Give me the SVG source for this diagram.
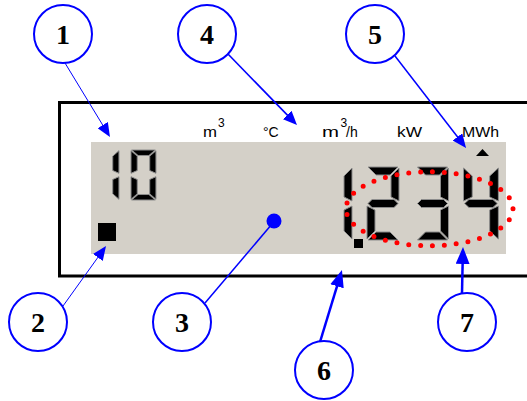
<svg xmlns="http://www.w3.org/2000/svg" xmlns:xlink="http://www.w3.org/1999/xlink" width="527" height="401" viewBox="0 0 527 401">
<style>
.seg{fill:#000;stroke:#8c8c8c;stroke-width:1;stroke-linejoin:round;vector-effect:non-scaling-stroke}
.unit{font-family:"Liberation Sans",Arial,sans-serif;font-size:14px;fill:#000}
.sup{font-family:"Liberation Sans",Arial,sans-serif;font-size:12px;fill:#000}
.callout circle{fill:#fff;stroke:#0000ff;stroke-width:2}
.callout text{font-family:"Liberation Serif","Times New Roman",serif;font-weight:bold;font-size:28px;fill:#000;text-anchor:middle}
.con{fill:none;stroke:#0000ff}
</style>
<defs>
<path id="sa" class="seg" d="M1,0 L31,0 L23,8 L9,8 Z"/>
<path id="sb" class="seg" d="M32,1 L32,34 L24,30 L24,9 Z"/>
<path id="sc" class="seg" d="M32,39 L32,72 L24,64 L24,43 Z"/>
<path id="sd" class="seg" d="M1,73 L31,73 L23,65 L9,65 Z"/>
<path id="se" class="seg" d="M0,39 L8,43 L8,64 L0,72 Z"/>
<path id="sf" class="seg" d="M0,1 L8,9 L8,30 L0,34 Z"/>
<path id="sg" class="seg" d="M1,36.5 L5,32.5 L27,32.5 L31,36.5 L27,40.5 L5,40.5 Z"/>
<g id="d0"><use xlink:href="#sa"/><use xlink:href="#sb"/><use xlink:href="#sc"/><use xlink:href="#sd"/><use xlink:href="#se"/><use xlink:href="#sf"/></g>
<g id="d1"><use xlink:href="#sb"/><use xlink:href="#sc"/></g>
<g id="d2"><use xlink:href="#sa"/><use xlink:href="#sb"/><use xlink:href="#sg"/><use xlink:href="#se"/><use xlink:href="#sd"/></g>
<g id="d3"><use xlink:href="#sa"/><use xlink:href="#sb"/><use xlink:href="#sg"/><use xlink:href="#sc"/><use xlink:href="#sd"/></g>
<g id="d4"><use xlink:href="#sf"/><use xlink:href="#sg"/><use xlink:href="#sb"/><use xlink:href="#sc"/></g>
<marker id="ah" markerUnits="userSpaceOnUse" markerWidth="14" markerHeight="12" refX="10" refY="6" orient="auto"><path d="M0,0 L14,6 L0,12 Z" fill="#0000ff"/></marker>
<marker id="ahL" markerUnits="userSpaceOnUse" markerWidth="17" markerHeight="14" refX="13" refY="7" orient="auto"><path d="M0,0 L17,7 L0,14 Z" fill="#0000ff"/></marker>
</defs>

<g id="meter">
<path d="M530,102.5 H59.5 V276 H530" fill="#fff" stroke="#000" stroke-width="3"/>
<rect x="91" y="142" width="415" height="112" fill="#d4d0c8"/>
<rect x="98" y="223" width="18" height="18" fill="#000"/>
<use xlink:href="#d1" transform="translate(94,150) scale(0.78,0.685)"/>
<use xlink:href="#d0" transform="translate(131,150) scale(0.78,0.685)"/>
<use xlink:href="#d1" transform="translate(320,167)"/>
<rect x="354" y="239" width="9" height="9" fill="#000"/>
<use xlink:href="#d2" transform="translate(367,167)"/>
<use xlink:href="#d3" transform="translate(416.5,167)"/>
<use xlink:href="#d4" transform="translate(463.5,167) scale(1.09,1)"/>
<path d="M476,156 L489,156 L482.5,149 Z" fill="#000"/>
<ellipse cx="429.5" cy="208.8" rx="83.5" ry="37" fill="none" stroke="#ff0000" stroke-width="5" stroke-linecap="round" stroke-dasharray="0 1" pathLength="33"/>
</g>

<g id="units">
<text class="unit" x="203" y="137" textLength="14" lengthAdjust="spacingAndGlyphs">m</text>
<text class="sup" x="218" y="127">3</text>
<text class="unit" x="263" y="137">°C</text>
<text class="unit" x="322" y="137" textLength="17" lengthAdjust="spacingAndGlyphs">m</text>
<text class="sup" x="340.5" y="127">3</text>
<text class="unit" x="346" y="137">/h</text>
<text class="unit" x="397" y="137" textLength="25" lengthAdjust="spacingAndGlyphs">kW</text>
<text class="unit" x="462" y="137" textLength="37" lengthAdjust="spacingAndGlyphs">MWh</text>
</g>

<g id="connectors">
<line class="con" x1="65" y1="63" x2="107.9" y2="133.6" stroke="#4a4aff" stroke-width="1" marker-end="url(#ah)"/>
<line class="con" x1="227" y1="53" x2="294.2" y2="122.1" stroke-width="1.6" marker-end="url(#ah)"/>
<line class="con" x1="395" y1="56" x2="463.6" y2="144.8" stroke-width="1.5" marker-end="url(#ah)"/>
<line class="con" x1="63" y1="306" x2="103.7" y2="249.3" stroke="#4a4aff" stroke-width="1" marker-end="url(#ah)"/>
<line class="con" x1="205" y1="303" x2="272" y2="224" stroke-width="1.5"/>
<circle cx="274" cy="221" r="7.5" fill="#0000ff"/>
<line class="con" x1="320" y1="342" x2="340.8" y2="273.8" stroke-width="2.5" marker-end="url(#ahL)"/>
<line class="con" x1="462" y1="293" x2="462.9" y2="251" stroke-width="2.5" marker-end="url(#ahL)"/>
</g>

<g id="callout-1" class="callout"><circle cx="63" cy="34" r="29"/><text x="63" y="44">1</text></g>
<g id="callout-2" class="callout"><circle cx="38" cy="322" r="29"/><text x="38" y="332">2</text></g>
<g id="callout-3" class="callout"><circle cx="182" cy="322" r="29"/><text x="182" y="332">3</text></g>
<g id="callout-4" class="callout"><circle cx="207" cy="34" r="29"/><text x="207" y="44">4</text></g>
<g id="callout-5" class="callout"><circle cx="375" cy="34" r="29"/><text x="375" y="44">5</text></g>
<g id="callout-6" class="callout"><circle cx="324" cy="370" r="29"/><text x="324" y="380">6</text></g>
<g id="callout-7" class="callout"><circle cx="467" cy="322" r="29"/><text x="467" y="332">7</text></g>
</svg>
